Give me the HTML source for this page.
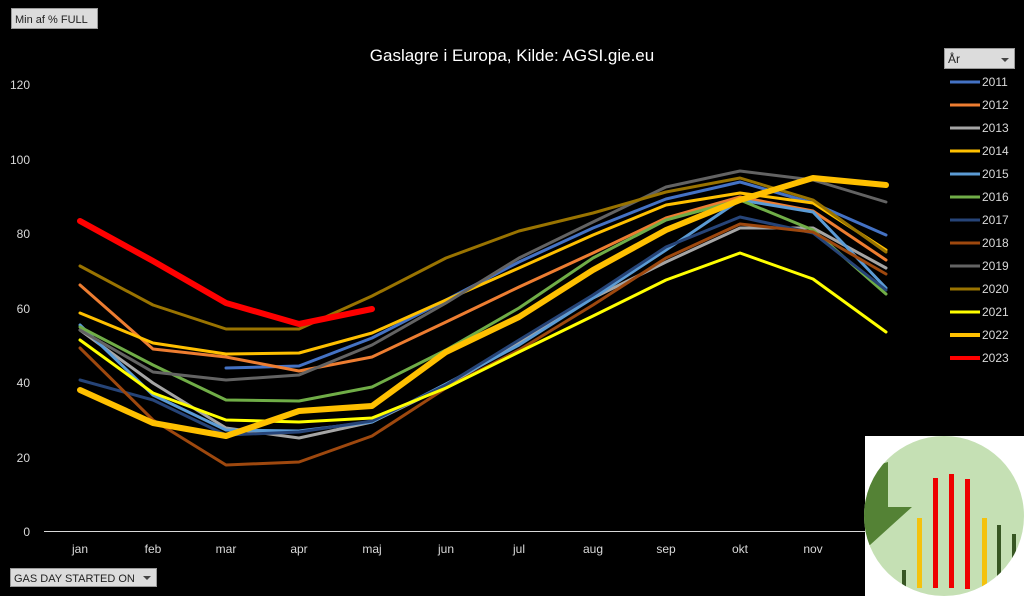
<!DOCTYPE html>
<html><head><meta charset="utf-8"><style>
body{margin:0;background:#000;width:1024px;height:596px;overflow:hidden;font-family:"Liberation Sans",sans-serif}
</style></head><body>
<svg width="1024" height="596" xmlns="http://www.w3.org/2000/svg" style="position:absolute;left:0;top:0">
<rect width="1024" height="596" fill="#000"/>
<rect x="11.5" y="8.5" width="86" height="20" fill="#dcdcdc" stroke="#9a9a9a"/>
<text x="15" y="23" font-size="11" fill="#222">Min af % FULL</text>
<text x="512" y="61" font-size="17" fill="#fff" text-anchor="middle">Gaslagre i Europa, Kilde: AGSI.gie.eu</text>
<g font-size="12" fill="#d9d9d9" text-anchor="end">
<text x="30" y="89">120</text><text x="30" y="164">100</text><text x="30" y="238">80</text><text x="30" y="313">60</text><text x="30" y="387">40</text><text x="30" y="462">20</text><text x="30" y="536">0</text>
</g>
<line x1="44" y1="531.5" x2="1000" y2="531.5" stroke="#d9d9d9"/>
<g font-size="12" fill="#d9d9d9" text-anchor="middle">
<text x="80" y="553">jan</text><text x="153" y="553">feb</text><text x="226" y="553">mar</text><text x="299" y="553">apr</text><text x="372" y="553">maj</text><text x="446" y="553">jun</text><text x="519" y="553">jul</text><text x="593" y="553">aug</text><text x="666" y="553">sep</text><text x="740" y="553">okt</text><text x="813" y="553">nov</text>
</g>
<g fill="none" stroke-width="3" stroke-linejoin="round" stroke-linecap="round">
<polyline stroke="#4472C4" points="226,368 299,366 372,338 446,300 519,262 593,228 666,199 740,182 813,203 886,235"/>
<polyline stroke="#ED7D31" points="80,285 153,349 226,357 299,371 372,357 446,322 519,287 593,253 666,218 740,197 813,211 886,260"/>
<polyline stroke="#A5A5A5" points="80,330 153,383 226,428 299,438 372,422 446,386 519,343 593,298 666,262 740,228 813,228 886,268"/>
<polyline stroke="#FFC000" points="80,313 153,343 226,354 299,353 372,333 446,300 519,268 593,235 666,205 740,193 813,203 886,250"/>
<polyline stroke="#5B9BD5" points="80,325 153,395 226,430 299,431 372,422 446,384 519,345 593,298 666,250 740,200 813,212 886,288"/>
<polyline stroke="#70AD47" points="80,327 153,365 226,400 299,401 372,387 446,350 519,308 593,258 666,220 740,200 813,230 886,294"/>
<polyline stroke="#264478" points="80,380 153,400 226,435 299,432 372,421 446,385 519,340 593,295 666,247 740,217 813,233 886,290"/>
<polyline stroke="#9E480E" points="80,348 153,420 226,465 299,462 372,436 446,388 519,350 593,305 666,258 740,224 813,232 886,274"/>
<polyline stroke="#636363" points="80,330 153,372 226,380 299,375 372,345 446,303 519,258 593,222 666,187 740,171 813,180 886,202"/>
<polyline stroke="#997300" points="80,266 153,305 226,329 299,329 372,296 446,258 519,231 593,213 666,192 740,178 813,200 886,252"/>
<polyline stroke="#FFFF00" points="80,340 153,393 226,420 299,422 372,418 446,388 519,352 593,316 666,280 740,253 813,279 886,332"/>
<polyline stroke="#FFC000" stroke-width="6" points="80,390 153,423 226,436 299,411 372,406 446,352 519,317 593,270 666,230 740,200 813,178 886,185"/>
<polyline stroke="#FF0000" stroke-width="6" points="80,221 153,261 226,303 299,324 372,309"/>
</g>
<rect x="944.5" y="48.5" width="70" height="20" fill="#dcdcdc" stroke="#9a9a9a"/>
<text x="948" y="63" font-size="12" fill="#222">År</text>
<polygon points="1001,58 1009,58 1005,62" fill="#444"/>
<g stroke-width="3">
<line x1="950" y1="82" x2="980" y2="82" stroke="#4472C4"/>
<line x1="950" y1="105" x2="980" y2="105" stroke="#ED7D31"/>
<line x1="950" y1="128" x2="980" y2="128" stroke="#A5A5A5"/>
<line x1="950" y1="151" x2="980" y2="151" stroke="#FFC000"/>
<line x1="950" y1="174" x2="980" y2="174" stroke="#5B9BD5"/>
<line x1="950" y1="197" x2="980" y2="197" stroke="#70AD47"/>
<line x1="950" y1="220" x2="980" y2="220" stroke="#264478"/>
<line x1="950" y1="243" x2="980" y2="243" stroke="#9E480E"/>
<line x1="950" y1="266" x2="980" y2="266" stroke="#636363"/>
<line x1="950" y1="289" x2="980" y2="289" stroke="#997300"/>
<line x1="950" y1="312" x2="980" y2="312" stroke="#FFFF00"/>
<line x1="950" y1="335" x2="980" y2="335" stroke="#FFC000" stroke-width="4"/>
<line x1="950" y1="358" x2="980" y2="358" stroke="#FF0000" stroke-width="4"/>
</g>
<g font-size="12" fill="#d9d9d9">
<text x="982" y="86">2011</text><text x="982" y="109">2012</text><text x="982" y="132">2013</text><text x="982" y="155">2014</text><text x="982" y="178">2015</text><text x="982" y="201">2016</text><text x="982" y="224">2017</text><text x="982" y="247">2018</text><text x="982" y="270">2019</text><text x="982" y="293">2020</text><text x="982" y="316">2021</text><text x="982" y="339">2022</text><text x="982" y="362">2023</text>
</g>
<rect x="10.5" y="568.5" width="146" height="18" fill="#dcdcdc" stroke="#9a9a9a"/>
<text x="14" y="582" font-size="11" fill="#222">GAS DAY STARTED ON</text>
<polygon points="143,576 151,576 147,580" fill="#444"/>
<rect x="865" y="436" width="159" height="160" fill="#fff"/>
<clipPath id="c"><circle cx="944" cy="516" r="80"/></clipPath>
<circle cx="944" cy="516" r="80" fill="#c5e0b4"/>
<g clip-path="url(#c)">
<polygon points="860,470 888,462 888,507 912,507 870,545 860,545" fill="#548235"/>
<rect x="902" y="570" width="4" height="20" fill="#375623"/>
<rect x="917" y="518" width="5" height="70" fill="#f4c20d"/>
<rect x="933" y="478" width="5" height="110" fill="#e00"/>
<rect x="949" y="474" width="5" height="114" fill="#e00"/>
<rect x="965" y="479" width="5" height="110" fill="#e00"/>
<rect x="982" y="518" width="5" height="70" fill="#f4c20d"/>
<rect x="997" y="525" width="4" height="60" fill="#375623"/>
<rect x="1012" y="534" width="4" height="50" fill="#375623"/>
</g>
</svg>
</body></html>
